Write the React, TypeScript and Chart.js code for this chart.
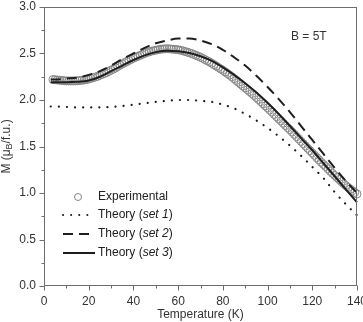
import React, { useEffect, useRef } from "react";
import { Chart, registerables } from "chart.js";

Chart.register(...registerables);

// Measured magnetisation, temperature in K
const expT = [
  4, 5, 6, 7, 8, 9, 10, 11, 12, 13, 14, 15, 16, 17, 18, 19, 20, 21, 22, 23, 24, 25, 26, 27, 28,
  29, 30, 31, 32, 33, 34, 35, 36, 37, 38, 39, 40, 41, 42, 43, 44, 45, 46, 47, 48, 49, 50, 51, 52,
  53, 54, 55, 56, 57, 58, 59, 60, 61, 62, 63, 64, 65, 66, 67, 68, 69, 70, 71, 72, 73, 74, 75, 76,
  77, 78, 79, 80, 81, 82, 83, 84, 85, 86, 87, 88, 89, 90, 91, 92, 93, 94, 95, 96, 97, 98, 99, 100,
  101, 102, 103, 104, 105, 106, 107, 108, 109, 110, 111, 112, 113, 114, 115, 116, 117, 118, 119,
  120, 121, 122, 123, 124, 125, 126, 127, 128, 129, 130, 131, 132, 133, 134, 135, 136, 137, 138,
  139, 140,
];
const expM = [
  2.22, 2.218, 2.215, 2.212, 2.21, 2.207, 2.205, 2.205, 2.205, 2.205, 2.205, 2.207, 2.21, 2.212,
  2.215, 2.22, 2.225, 2.232, 2.24, 2.247, 2.255, 2.265, 2.275, 2.285, 2.295, 2.307, 2.32, 2.332,
  2.345, 2.36, 2.375, 2.388, 2.4, 2.412, 2.425, 2.437, 2.45, 2.46, 2.47, 2.48, 2.49, 2.5, 2.51,
  2.518, 2.525, 2.53, 2.535, 2.54, 2.545, 2.548, 2.55, 2.551, 2.55, 2.548, 2.545, 2.543, 2.54,
  2.535, 2.53, 2.522, 2.515, 2.508, 2.5, 2.49, 2.48, 2.47, 2.46, 2.448, 2.435, 2.422, 2.41, 2.395,
  2.38, 2.365, 2.35, 2.335, 2.32, 2.302, 2.285, 2.268, 2.25, 2.23, 2.21, 2.19, 2.17, 2.15, 2.13,
  2.11, 2.09, 2.07, 2.05, 2.027, 2.005, 1.982, 1.96, 1.937, 1.915, 1.892, 1.87, 1.845, 1.82,
  1.797, 1.775, 1.75, 1.725, 1.702, 1.68, 1.655, 1.63, 1.605, 1.58, 1.555, 1.53, 1.505, 1.48,
  1.455, 1.43, 1.405, 1.38, 1.355, 1.33, 1.307, 1.285, 1.26, 1.235, 1.212, 1.19, 1.167, 1.145,
  1.122, 1.1, 1.08, 1.06, 1.042, 1.025, 1.007, 0.99,
];

// Calculated curves
const theoryT = [3, 5, 10, 15, 20, 25, 30, 35, 40, 45, 50, 55, 60, 65, 70, 75, 80, 85, 90, 95, 100, 105, 110, 115, 120, 125, 130, 135, 140];
const set1M = [1.93, 1.93, 1.925, 1.92, 1.92, 1.92, 1.925, 1.935, 1.95, 1.965, 1.98, 1.99, 2.0, 2.0, 1.99, 1.98, 1.95, 1.91, 1.85, 1.78, 1.7, 1.61, 1.51, 1.4, 1.28, 1.16, 1.01, 0.88, 0.76];
const set2M = [2.22, 2.22, 2.23, 2.24, 2.27, 2.31, 2.37, 2.44, 2.5, 2.56, 2.61, 2.64, 2.66, 2.66, 2.64, 2.6, 2.54, 2.46, 2.37, 2.26, 2.14, 2.01, 1.87, 1.72, 1.57, 1.42, 1.27, 1.13, 1.0];
const set3M = [2.19, 2.19, 2.19, 2.195, 2.21, 2.25, 2.31, 2.37, 2.43, 2.48, 2.515, 2.53, 2.525, 2.505, 2.47, 2.42, 2.35, 2.27, 2.18, 2.08, 1.97, 1.85, 1.72, 1.59, 1.46, 1.32, 1.18, 1.04, 0.9];

const xTicks = [0, 20, 40, 60, 80, 100, 120, 140];
const yTicks = [0, 0.5, 1.0, 1.5, 2.0, 2.5, 3.0];

const FONT = "'Liberation Sans', Arial, Helvetica, sans-serif";
const TEXT = "#333";
const FRAME = "#6e6e6e";
const CIRCLE = "#858585";
const LINE = "#1e1e1e";

const DOTTED = [0.1, 8];
const DASHED = [10, 6];

const toPts = (xs: number[], ys: number[]) => xs.map((x, i) => ({ x, y: ys[i] }));

const framePlugin = {
  id: "frameAndMinorTicks",
  afterDatasetsDraw(chart: any) {
    const { ctx, chartArea: a, scales } = chart;
    const x = scales.x;
    const y = scales.y;
    ctx.save();
    ctx.strokeStyle = FRAME;
    ctx.lineWidth = 1;
    const L = Math.round(a.left) + 0.5;
    const R = Math.round(a.right) - 0.5;
    const T = Math.round(a.top) + 0.5;
    const B = Math.round(a.bottom) - 0.5;
    ctx.strokeRect(L, T, R - L, B - T);
    ctx.beginPath();
    for (let v = 0; v <= 140; v += 10) {
      const px = Math.round(x.getPixelForValue(v)) + 0.5;
      const len = v % 20 === 0 ? 5 : 3;
      ctx.moveTo(px, B);
      ctx.lineTo(px, B + len);
    }
    for (let k = 0; k <= 12; k++) {
      const v = k * 0.25;
      const py = Math.round(y.getPixelForValue(v)) + 0.5;
      const len = k % 2 === 0 ? 5 : 3;
      ctx.moveTo(L, py);
      ctx.lineTo(L - len, py);
    }
    ctx.stroke();
    ctx.restore();
  },
};

const annotationPlugin = {
  id: "annotations",
  afterDraw(chart: any) {
    const { ctx, chartArea: a } = chart;
    ctx.save();
    ctx.fillStyle = TEXT;
    ctx.textBaseline = "middle";

    // field label
    ctx.font = `12px ${FONT}`;
    ctx.textAlign = "left";
    ctx.fillText("B = 5T", 291, 37);

    // y-axis title with subscript
    ctx.save();
    ctx.translate(7, (a.top + a.bottom) / 2);
    ctx.rotate(-Math.PI / 2);
    const parts: [string, string, number][] = [
      ["M (\u03bc", `12px ${FONT}`, 0],
      ["B", `9px ${FONT}`, 3],
      ["/f.u.)", `12px ${FONT}`, 0],
    ];
    let total = 0;
    for (const [t, f] of parts) {
      ctx.font = f;
      total += ctx.measureText(t).width;
    }
    let cx = -total / 2;
    for (const [t, f, dy] of parts) {
      ctx.font = f;
      ctx.fillText(t, cx, dy);
      cx += ctx.measureText(t).width;
    }
    ctx.restore();

    // legend
    const rows = [197, 215, 234, 253];
    const x0 = 63;
    const textX = 98;

    ctx.beginPath();
    ctx.strokeStyle = CIRCLE;
    ctx.lineWidth = 1;
    ctx.arc(78, rows[0], 3.5, 0, Math.PI * 2);
    ctx.stroke();

    const samples: [number[], number][] = [
      [DOTTED, 95],
      [DASHED, 89],
      [[], 95],
    ];
    samples.forEach(([dash, end], i) => {
      ctx.beginPath();
      ctx.strokeStyle = LINE;
      ctx.lineWidth = 2;
      ctx.lineCap = dash === DOTTED ? "round" : "butt";
      ctx.setLineDash(dash);
      ctx.moveTo(x0, rows[i + 1]);
      ctx.lineTo(end, rows[i + 1]);
      ctx.stroke();
    });
    ctx.setLineDash([]);

    ctx.fillStyle = "#222";
    ctx.font = `12px ${FONT}`;
    ctx.fillText("Experimental", textX, rows[0]);
    ["1", "2", "3"].forEach((n, i) => {
      let px = textX;
      const seg: [string, string][] = [
        ["Theory (", `12px ${FONT}`],
        [`set ${n}`, `italic 12px ${FONT}`],
        [")", `12px ${FONT}`],
      ];
      for (const [t, f] of seg) {
        ctx.font = f;
        ctx.fillText(t, px, rows[i + 1]);
        px += ctx.measureText(t).width;
      }
    });
    ctx.restore();
  },
};

export default function App() {
  const ref = useRef<HTMLCanvasElement | null>(null);

  useEffect(() => {
    if (!ref.current) return;
    const chart = new Chart(ref.current, {
      type: "scatter",
      data: {
        datasets: [
          {
            label: "Theory (set 3)",
            data: toPts(theoryT, set3M),
            showLine: true,
            borderColor: LINE,
            borderWidth: 2,
            pointRadius: 0,
            cubicInterpolationMode: "monotone",
          },
          {
            label: "Theory (set 2)",
            data: toPts(theoryT, set2M),
            showLine: true,
            borderColor: LINE,
            borderWidth: 2,
            borderDash: DASHED,
            pointRadius: 0,
            cubicInterpolationMode: "monotone",
          },
          {
            label: "Theory (set 1)",
            data: toPts(theoryT, set1M),
            showLine: true,
            borderColor: LINE,
            borderWidth: 2.2,
            borderDash: DOTTED,
            borderCapStyle: "round",
            pointRadius: 0,
            cubicInterpolationMode: "monotone",
          },
          {
            label: "Experimental",
            data: toPts(expT, expM),
            showLine: false,
            pointStyle: "circle",
            pointRadius: 4,
            pointBorderWidth: 1,
            pointBorderColor: CIRCLE,
            pointBackgroundColor: "rgba(255,255,255,0)",
          },
        ],
      },
      options: {
        animation: false,
        responsive: false,
        devicePixelRatio: 1,
        clip: false,
        layout: { padding: { top: 7, right: 6, left: 0, bottom: 0 } },
        plugins: { legend: { display: false }, tooltip: { enabled: false } },
        scales: {
          x: {
            type: "linear",
            min: 0,
            max: 140,
            afterBuildTicks: (s: any) => {
              s.ticks = xTicks.map((v) => ({ value: v }));
            },
            afterFit: (s: any) => {
              s.height = 36;
              s.paddingLeft = 0;
              s.paddingRight = 0;
            },
            grid: { display: false, drawTicks: false, tickLength: 0 },
            border: { display: false },
            ticks: {
              font: { family: FONT, size: 12 },
              color: TEXT,
              padding: 8,
              maxRotation: 0,
              autoSkip: false,
            },
            title: {
              display: true,
              text: "Temperature (K)",
              font: { family: FONT, size: 12 },
              color: TEXT,
              padding: { top: 0, bottom: 0 },
            },
          },
          y: {
            type: "linear",
            min: 0,
            max: 3,
            afterBuildTicks: (s: any) => {
              s.ticks = yTicks.map((v) => ({ value: v }));
            },
            afterFit: (s: any) => {
              s.width = 44;
              s.paddingTop = 0;
              s.paddingBottom = 0;
            },
            grid: { display: false, drawTicks: false, tickLength: 0 },
            border: { display: false },
            ticks: {
              font: { family: FONT, size: 12 },
              color: TEXT,
              padding: 8,
              autoSkip: false,
              callback: (v: any) => Number(v).toFixed(1),
            },
          },
        },
      },
      plugins: [framePlugin, annotationPlugin],
    });
    return () => chart.destroy();
  }, []);

  return (
    <div style={{ position: "absolute", left: 0, top: 0, width: 363, height: 322, background: "#fff" }}>
      <canvas ref={ref} width={363} height={322} style={{ width: 363, height: 322, display: "block" }} />
    </div>
  );
}
